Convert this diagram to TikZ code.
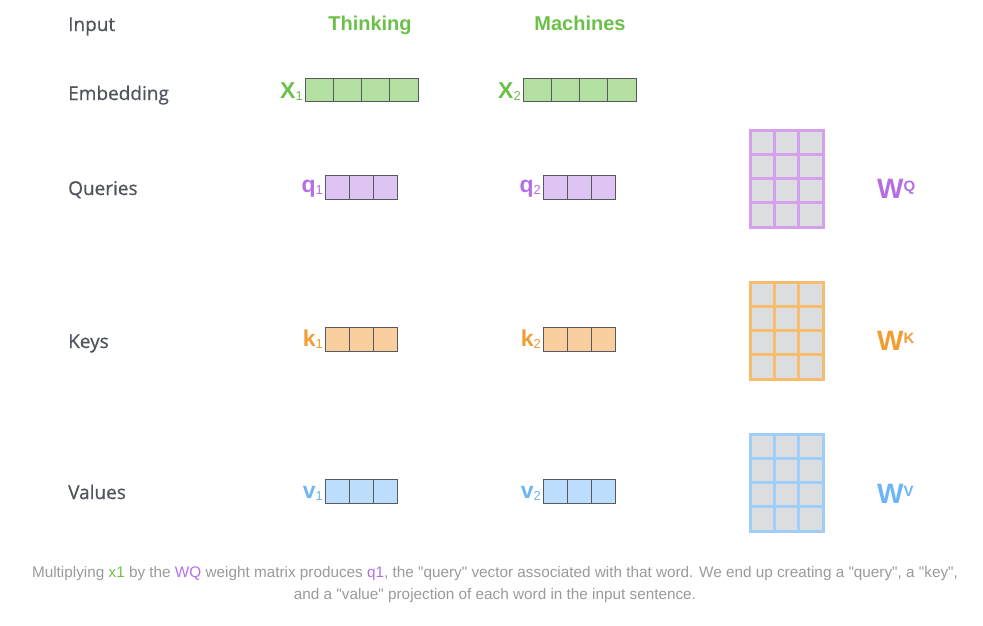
\documentclass[tikz,border=0pt]{standalone}
\usepackage{fontspec}
\setmainfont{Liberation Sans}
\newfontfamily\rowfont[FakeBold=0.6]{Open Sans}

\definecolor{rowgray}{HTML}{50555C}
\definecolor{capgray}{HTML}{9A9A9A}
\definecolor{cellline}{HTML}{555A60}
\definecolor{matgray}{HTML}{DCDDDF}
\definecolor{xgreen}{HTML}{6CC04A}
\definecolor{xfill}{HTML}{B3DFA0}
\definecolor{qpurple}{HTML}{B46EE6}
\definecolor{qfill}{HTML}{DEC4F2}
\definecolor{qline}{HTML}{D4A0EE}
\definecolor{korange}{HTML}{F39C32}
\definecolor{kfill}{HTML}{F9CF9F}
\definecolor{kline}{HTML}{F7BD6E}
\definecolor{vblue}{HTML}{6EB5F8}
\definecolor{vfill}{HTML}{BCDDFB}
\definecolor{vline}{HTML}{A0CEFB}

\newcommand\vsub[1]{\raisebox{-2pt}{\mdseries\fontsize{13}{13}\selectfont #1}}
\newcommand\wsup[1]{\raisebox{7pt}{\fontsize{15}{15}\selectfont #1}}
\newcommand\qq[1]{\textquotedbl#1\textquotedbl}

\begin{document}
\begin{tikzpicture}[x=1pt,y=-1pt,
    rowlabel/.style={anchor=base west, inner sep=0pt, text=rowgray, font=\rowfont\fontsize{19}{19}\selectfont},
    word/.style={anchor=base, inner sep=0pt, text=xgreen, font=\bfseries\fontsize{20}{20}\selectfont},
    veclabel/.style={anchor=base east, inner sep=0pt, font=\bfseries\fontsize{23}{23}\selectfont},
    cell/.style={draw=cellline, line width=0.9pt},
    wmat/.style={line width=3pt, fill=matgray},
    wlabel/.style={anchor=base west, inner sep=0pt, font=\bfseries\fontsize{28}{28}\selectfont},
    caption/.style={anchor=base, inner sep=0pt, text=capgray, font=\fontsize{15.3}{15.3}\selectfont}]
    % \draw[help lines] (0,0) grid[step=50] (983,625);
    \useasboundingbox (0,0) rectangle (983,625);

    % row names
    \node[rowlabel] (input) at (68,31) {Input};
    \node[rowlabel] (embed) at (68,100) {Embedding};
    \node[rowlabel] (queries) at (68,195) {Queries};
    \node[rowlabel] (keys) at (68,348) {Keys};
    \node[rowlabel] (values) at (68,499) {Values};

    % words
    \node[word] (thinking) at (370,30) {Thinking};
    \node[word] (machines) at (580,30) {Machines};

    % embeddings
    \foreach \x in {305,523}
        \foreach \i in {0,...,3}
            \draw[cell, fill=xfill] (\x+\i*28.25,78) rectangle ++(28.25,23);
    \node[veclabel, text=xgreen] (x1) at (303,98) {X\vsub{1}};
    \node[veclabel, text=xgreen] (x2) at (521,98) {X\vsub{2}};

    % queries, keys, values
    \foreach \y/\f in {175/qfill,327/kfill,479/vfill}
        \foreach \x in {325,543}
            \foreach \i in {0,...,2}
                \draw[cell, fill=\f] (\x+\i*24,\y) rectangle ++(24,24.5);
    \node[veclabel, text=qpurple] (q1) at (323,192) {q\vsub{1}};
    \node[veclabel, text=qpurple] (q2) at (541,192) {q\vsub{2}};
    \node[veclabel, text=korange] (k1) at (323,346) {k\vsub{1}};
    \node[veclabel, text=korange] (k2) at (541,346) {k\vsub{2}};
    \node[veclabel, text=vblue] (v1) at (323,498) {v\vsub{1}};
    \node[veclabel, text=vblue] (v2) at (541,498) {v\vsub{2}};

    % weight matrices
    \foreach \y/\c in {130/qline,282/kline,434/vline} {
        \draw[wmat, draw=\c] (750,\y) rectangle ++(73,97);
        \foreach \i in {1,2}
            \draw[line width=3pt, draw=\c] (750+\i*24.33,\y) -- ++(0,97);
        \foreach \j in {1,2,3}
            \draw[line width=3pt, draw=\c] (750,\y+\j*24.25) -- ++(73,0);
    }
    \node[wlabel, text=qpurple] (wq) at (877,198) {W\wsup{Q}};
    \node[wlabel, text=korange] (wk) at (877,350) {W\wsup{K}};
    \node[wlabel, text=vblue] (wv) at (877,503) {W\wsup{V}};

    % caption
    \node[caption] (cap1) at (495,577) {Multiplying \textcolor{xgreen}{x1} by the \textcolor{qpurple}{WQ} weight matrix produces \textcolor{qpurple}{q1}, the \qq{query} vector associated with that word. We end up creating a \qq{query}, a \qq{key},};
    \node[caption] (cap2) at (495,599) {and a \qq{value} projection of each word in the input sentence.};

\end{tikzpicture}
\end{document}
